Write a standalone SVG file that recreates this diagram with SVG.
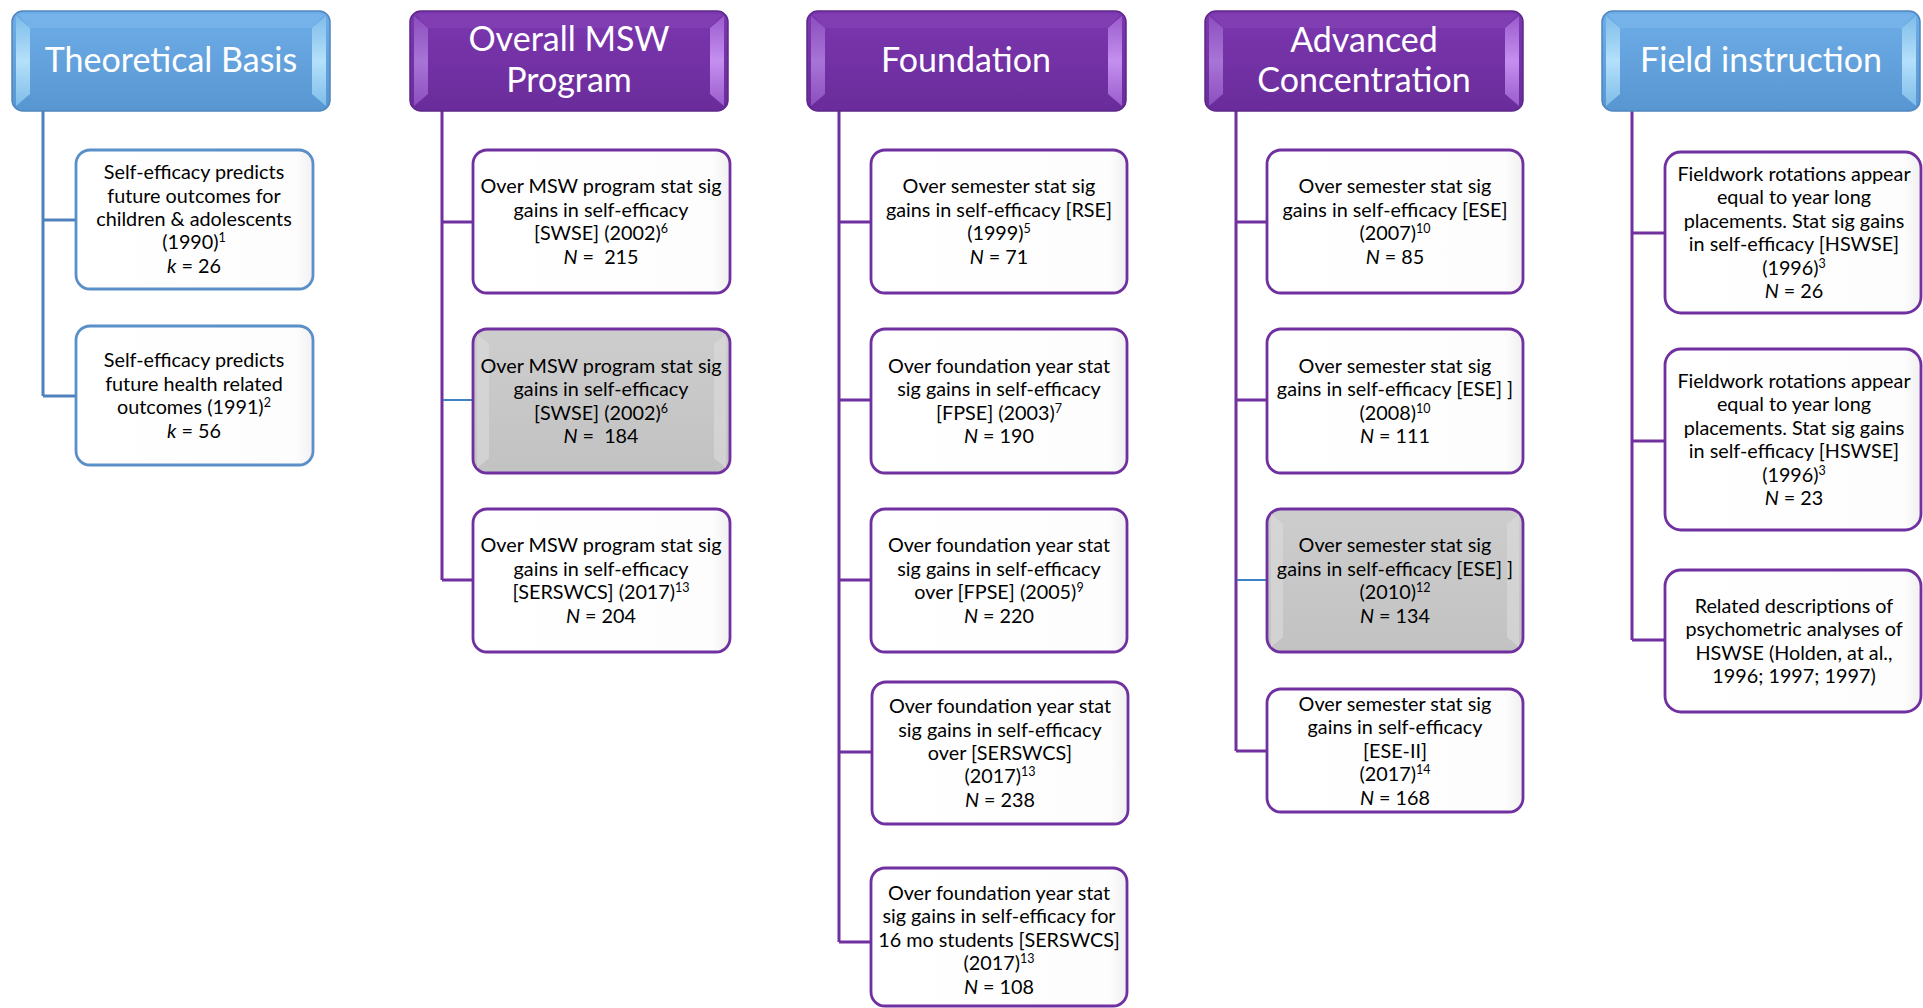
<svg xmlns="http://www.w3.org/2000/svg" width="1923" height="1008" viewBox="0 0 1923 1008">
<defs>
<linearGradient id="gPur" x1="0" y1="0" x2="0" y2="1"><stop offset="0" stop-color="#7c37b0"/><stop offset="1" stop-color="#6a2c9a"/></linearGradient>
<linearGradient id="gPurSide" x1="0" y1="0" x2="0" y2="1"><stop offset="0" stop-color="#8c4fbf"/><stop offset="0.5" stop-color="#a874d6"/><stop offset="1" stop-color="#8c4fbf"/></linearGradient>
<linearGradient id="gPurSideR" x1="0" y1="0" x2="0" y2="1"><stop offset="0" stop-color="#9a5ccc"/><stop offset="0.5" stop-color="#c58ff0"/><stop offset="1" stop-color="#9a5ccc"/></linearGradient>
<linearGradient id="gBlue" x1="0" y1="0" x2="0" y2="1"><stop offset="0" stop-color="#6eaee8"/><stop offset="1" stop-color="#5896d2"/></linearGradient>
<linearGradient id="gBlueSide" x1="0" y1="0" x2="0" y2="1"><stop offset="0" stop-color="#7fbde9"/><stop offset="0.5" stop-color="#b4e0fa"/><stop offset="1" stop-color="#7fbde9"/></linearGradient>
<linearGradient id="gWhite" x1="0" y1="0" x2="1" y2="0"><stop offset="0" stop-color="#ffffff"/><stop offset="0.93" stop-color="#fdfdfd"/><stop offset="1" stop-color="#f0f0f0"/></linearGradient>
<linearGradient id="gGray" x1="0" y1="0" x2="0" y2="1"><stop offset="0" stop-color="#cdcdcd"/><stop offset="1" stop-color="#c2c2c2"/></linearGradient>
</defs>
<style>
.hdrP{fill:url(#gPur);stroke:#5e2789;stroke-width:1.5}
.hdrB{fill:url(#gBlue);stroke:#4f86bd;stroke-width:1.5}
.sideP{fill:url(#gPurSide)}
.sidePR{fill:url(#gPurSideR)}
.sideB{fill:url(#gBlueSide)}
.topP{fill:#8544b6;opacity:0.6}
.topB{fill:#7cb8ec;opacity:0.6}
.bx{fill:url(#gWhite);stroke:#7030a0;stroke-width:2.8}
.bxB{fill:url(#gWhite);stroke:#5b8fc8;stroke-width:2.8}
.bxG{fill:url(#gGray);stroke:#7030a0;stroke-width:2.8}
.gbev{fill:#d9d9d9;opacity:0.7}
.ht{font-family:Lato,"Liberation Sans",sans-serif;font-size:34px;fill:#ffffff;text-anchor:middle}
.t{font-family:Lato,"Liberation Sans",sans-serif;font-size:19.8px;fill:#000000;text-anchor:middle}
.i{font-style:italic}
.sup{font-size:12.5px;baseline-shift:super}
.cP{stroke:#7030a0;stroke-width:3;fill:none}
.cB{stroke:#4f81bd;stroke-width:3;fill:none}
.cL{stroke:#3f82c4;stroke-width:2;fill:none}
</style>

<g id="connectors">
<path class="cB" d="M43 111 V396 M43 220 H76 M43 396 H76"/>
<path class="cP" d="M442 111 V580 M442 222 H473 M442 580 H473"/>
<path class="cL" d="M443 400 H473"/>
<path class="cP" d="M839 111 V942 M839 222 H871 M839 400 H871 M839 580 H871 M839 752 H871 M839 942 H871"/>
<path class="cP" d="M1236 111 V751 M1236 222 H1267 M1236 400 H1267 M1236 751 H1267"/>
<path class="cL" d="M1237 580 H1267"/>
<path class="cP" d="M1632 111 V640 M1632 233 H1665 M1632 441 H1665 M1632 640 H1665"/>
</g>

<g id="hdr-theoretical">
<rect class="hdrB" x="12" y="11" width="318" height="100" rx="11"/>
<polygon class="sideB" points="16,16 30,28 30,94 16,106"/>
<polygon class="sideB" points="326,16 312,28 312,94 326,106"/>
<polygon class="topB" points="18,14 324,14 312,28 30,28"/>
<text class="ht" x="171" y="72">Theoretical Basis</text>
</g>

<g id="hdr-msw">
<rect class="hdrP" x="410" y="11" width="318" height="100" rx="11"/>
<polygon class="sideP" points="414,16 428,28 428,94 414,106"/>
<polygon class="sidePR" points="724,16 710,28 710,94 724,106"/>
<polygon class="topP" points="416,14 722,14 710,28 428,28"/>
<text class="ht" x="569" y="51">Overall MSW</text>
<text class="ht" x="569" y="92">Program</text>
</g>

<g id="hdr-foundation">
<rect class="hdrP" x="807" y="11" width="319" height="100" rx="11"/>
<polygon class="sideP" points="811,16 825,28 825,94 811,106"/>
<polygon class="sidePR" points="1122,16 1108,28 1108,94 1122,106"/>
<polygon class="topP" points="813,14 1120,14 1108,28 825,28"/>
<text class="ht" x="966" y="72">Foundation</text>
</g>

<g id="hdr-advanced">
<rect class="hdrP" x="1205" y="11" width="318" height="100" rx="11"/>
<polygon class="sideP" points="1209,16 1223,28 1223,94 1209,106"/>
<polygon class="sidePR" points="1519,16 1505,28 1505,94 1519,106"/>
<polygon class="topP" points="1211,14 1517,14 1505,28 1223,28"/>
<text class="ht" x="1364" y="52">Advanced</text>
<text class="ht" x="1364" y="92">Concentration</text>
</g>

<g id="hdr-field">
<rect class="hdrB" x="1602" y="11" width="318" height="100" rx="11"/>
<polygon class="sideB" points="1606,16 1620,28 1620,94 1606,106"/>
<polygon class="sideB" points="1916,16 1902,28 1902,94 1916,106"/>
<polygon class="topB" points="1608,14 1914,14 1902,28 1620,28"/>
<text class="ht" x="1761" y="72">Field instruction</text>
</g>

<g id="tb-1">
<rect class="bxB" x="76" y="150" width="237" height="139" rx="14"/>
<text class="t" x="194" y="179">Self-efficacy predicts</text>
<text class="t" x="194" y="202.6">future outcomes for</text>
<text class="t" x="194" y="226">children &amp; adolescents</text>
<text class="t" x="194" y="249.4">(1990)<tspan class="sup">1</tspan></text>
<text class="t" x="194" y="272.8"><tspan class="i">k</tspan> = 26</text>
</g>
<g id="tb-2">
<rect class="bxB" x="76" y="326" width="237" height="139" rx="14"/>
<text class="t" x="194" y="367.4">Self-efficacy predicts</text>
<text class="t" x="194" y="390.8">future health related</text>
<text class="t" x="194" y="414.2">outcomes (1991)<tspan class="sup">2</tspan></text>
<text class="t" x="194" y="437.6"><tspan class="i">k</tspan> = 56</text>
</g>

<g id="msw-1">
<rect class="bx" x="473" y="150" width="257" height="143" rx="14"/>
<text class="t" x="601" y="193.4">Over MSW program stat sig</text>
<text class="t" x="601" y="216.8">gains in self-efficacy</text>
<text class="t" x="601" y="240.2">[SWSE] (2002)<tspan class="sup">6</tspan></text>
<text class="t" x="601" y="263.6"><tspan class="i">N</tspan> =&#160; 215</text>
</g>
<g id="msw-2">
<rect class="bxG" x="473" y="329" width="257" height="144" rx="14"/>
<polygon class="gbev" points="477,334 489,344 489,458 477,468"/>
<polygon class="gbev" points="726,334 714,344 714,458 726,468"/>
<text class="t" x="601" y="372.9">Over MSW program stat sig</text>
<text class="t" x="601" y="396.3">gains in self-efficacy</text>
<text class="t" x="601" y="419.7">[SWSE] (2002)<tspan class="sup">6</tspan></text>
<text class="t" x="601" y="443.1"><tspan class="i">N</tspan> =&#160; 184</text>
</g>
<g id="msw-3">
<rect class="bx" x="473" y="509" width="257" height="143" rx="14"/>
<text class="t" x="601" y="552.4">Over MSW program stat sig</text>
<text class="t" x="601" y="575.8">gains in self-efficacy</text>
<text class="t" x="601" y="599.2">[SERSWCS] (2017)<tspan class="sup">13</tspan></text>
<text class="t" x="601" y="622.6"><tspan class="i">N</tspan> = 204</text>
</g>

<g id="fd-1">
<rect class="bx" x="871" y="150" width="256" height="143" rx="14"/>
<text class="t" x="999" y="193.4">Over semester stat sig</text>
<text class="t" x="999" y="216.8">gains in self-efficacy [RSE]</text>
<text class="t" x="999" y="240.2">(1999)<tspan class="sup">5</tspan></text>
<text class="t" x="999" y="263.6"><tspan class="i">N</tspan> = 71</text>
</g>
<g id="fd-2">
<rect class="bx" x="871" y="329" width="256" height="144" rx="14"/>
<text class="t" x="999" y="372.9">Over foundation year stat</text>
<text class="t" x="999" y="396.3">sig gains in self-efficacy</text>
<text class="t" x="999" y="419.7">[FPSE] (2003)<tspan class="sup">7</tspan></text>
<text class="t" x="999" y="443.1"><tspan class="i">N</tspan> = 190</text>
</g>
<g id="fd-3">
<rect class="bx" x="871" y="509" width="256" height="143" rx="14"/>
<text class="t" x="999" y="552.4">Over foundation year stat</text>
<text class="t" x="999" y="575.8">sig gains in self-efficacy</text>
<text class="t" x="999" y="599.2">over [FPSE] (2005)<tspan class="sup">9</tspan></text>
<text class="t" x="999" y="622.6"><tspan class="i">N</tspan> = 220</text>
</g>
<g id="fd-4">
<rect class="bx" x="872" y="682" width="256" height="142" rx="14"/>
<text class="t" x="1000" y="713.2">Over foundation year stat</text>
<text class="t" x="1000" y="736.6">sig gains in self-efficacy</text>
<text class="t" x="1000" y="760">over [SERSWCS]</text>
<text class="t" x="1000" y="783.4">(2017)<tspan class="sup">13</tspan></text>
<text class="t" x="1000" y="806.8"><tspan class="i">N</tspan> = 238</text>
</g>
<g id="fd-5">
<rect class="bx" x="871" y="868" width="256" height="138" rx="14"/>
<text class="t" x="999" y="900">Over foundation year stat</text>
<text class="t" x="999" y="923.4">sig gains in self-efficacy for</text>
<text class="t" x="999" y="946.8">16 mo students [SERSWCS]</text>
<text class="t" x="999" y="970.2">(2017)<tspan class="sup">13</tspan></text>
<text class="t" x="999" y="993.6"><tspan class="i">N</tspan> = 108</text>
</g>

<g id="ad-1">
<rect class="bx" x="1267" y="150" width="256" height="143" rx="14"/>
<text class="t" x="1395" y="193.4">Over semester stat sig</text>
<text class="t" x="1395" y="216.8">gains in self-efficacy [ESE]</text>
<text class="t" x="1395" y="240.2">(2007)<tspan class="sup">10</tspan></text>
<text class="t" x="1395" y="263.6"><tspan class="i">N</tspan> = 85</text>
</g>
<g id="ad-2">
<rect class="bx" x="1267" y="329" width="256" height="144" rx="14"/>
<text class="t" x="1395" y="372.9">Over semester stat sig</text>
<text class="t" x="1395" y="396.3">gains in self-efficacy [ESE] ]</text>
<text class="t" x="1395" y="419.7">(2008)<tspan class="sup">10</tspan></text>
<text class="t" x="1395" y="443.1"><tspan class="i">N</tspan> = 111</text>
</g>
<g id="ad-3">
<rect class="bxG" x="1267" y="509" width="256" height="143" rx="14"/>
<polygon class="gbev" points="1271,514 1283,524 1283,637 1271,647"/>
<polygon class="gbev" points="1519,514 1507,524 1507,637 1519,647"/>
<text class="t" x="1395" y="552.4">Over semester stat sig</text>
<text class="t" x="1395" y="575.8">gains in self-efficacy [ESE] ]</text>
<text class="t" x="1395" y="599.2">(2010)<tspan class="sup">12</tspan></text>
<text class="t" x="1395" y="622.6"><tspan class="i">N</tspan> = 134</text>
</g>
<g id="ad-4">
<rect class="bx" x="1267" y="689" width="256" height="123" rx="14"/>
<text class="t" x="1395" y="711">Over semester stat sig</text>
<text class="t" x="1395" y="734.4">gains in self-efficacy</text>
<text class="t" x="1395" y="757.8">[ESE-II]</text>
<text class="t" x="1395" y="781.2">(2017)<tspan class="sup">14</tspan></text>
<text class="t" x="1395" y="804.6"><tspan class="i">N</tspan> = 168</text>
</g>

<g id="fi-1">
<rect class="bx" x="1665" y="152" width="256" height="161" rx="16"/>
<text class="t" x="1794" y="181">Fieldwork rotations appear</text>
<text class="t" x="1794" y="204.4">equal to year long</text>
<text class="t" x="1794" y="227.8">placements. Stat sig gains</text>
<text class="t" x="1794" y="251.2">in self-efficacy [HSWSE]</text>
<text class="t" x="1794" y="274.6">(1996)<tspan class="sup">3</tspan></text>
<text class="t" x="1794" y="298"><tspan class="i">N</tspan> = 26</text>
</g>
<g id="fi-2">
<rect class="bx" x="1665" y="349" width="256" height="181" rx="16"/>
<text class="t" x="1794" y="388">Fieldwork rotations appear</text>
<text class="t" x="1794" y="411.4">equal to year long</text>
<text class="t" x="1794" y="434.8">placements. Stat sig gains</text>
<text class="t" x="1794" y="458.2">in self-efficacy [HSWSE]</text>
<text class="t" x="1794" y="481.6">(1996)<tspan class="sup">3</tspan></text>
<text class="t" x="1794" y="505"><tspan class="i">N</tspan> = 23</text>
</g>
<g id="fi-3">
<rect class="bx" x="1665" y="570" width="256" height="142" rx="16"/>
<text class="t" x="1794" y="612.9">Related descriptions of</text>
<text class="t" x="1794" y="636.3">psychometric analyses of</text>
<text class="t" x="1794" y="659.7">HSWSE (Holden, at al.,</text>
<text class="t" x="1794" y="683.1">1996; 1997; 1997)</text>
</g>
</svg>
